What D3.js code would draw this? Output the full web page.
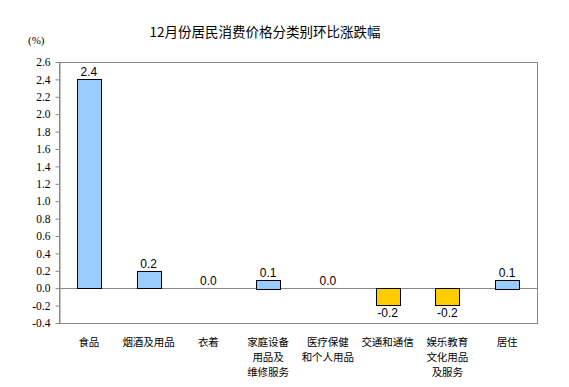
<!DOCTYPE html>
<html><head><meta charset="utf-8">
<script src="https://cdn.jsdelivr.net/npm/d3@7"></script>
<style>body{margin:0;background:#fff}</style>
</head><body>
<svg id="c" width="569" height="387"></svg>
<script>
const categories = [["食品"],["烟酒及用品"],["衣着"],["家庭设备","用品及","维修服务"],["医疗保健","和个人用品"],["交通和通信"],["娱乐教育","文化用品","及服务"],["居住"]];
const values = [2.4, 0.2, 0.0, 0.1, 0.0, -0.2, -0.2, 0.1];
const yTicks = [-0.4,-0.2,0,0.2,0.4,0.6,0.8,1.0,1.2,1.4,1.6,1.8,2.0,2.2,2.4,2.6];
const title = "12月份居民消费价格分类别环比涨跌幅";

const fmt = d => d3.format(".1f")(d).replace("\u2212","-");
const svg = d3.select("#c");
const m = {l:59, r:537, t:62, b:323};
const x = d3.scaleBand().domain(d3.range(values.length)).range([m.l, m.r]).paddingInner(0.6).paddingOuter(0.3);
const y = d3.scaleLinear().domain([-0.4, 2.6]).range([m.b, m.t]);

svg.append("text").attr("x", 265).attr("y", 37).attr("text-anchor","middle")
  .attr("font-family","'Noto Sans CJK SC'").attr("font-size",13.5).attr("fill","#000").text(title);
svg.append("text").attr("x", 28).attr("y", 44)
  .attr("font-family","'Liberation Serif'").attr("font-size",11).text("(%)");

// frame
svg.append("rect").attr("x", m.l+0.5).attr("y", m.t+0.5).attr("width", m.r-m.l).attr("height", m.b-m.t)
  .attr("fill","none").attr("stroke","#888");

const ax = svg.append("g").attr("transform",`translate(${m.l+0.5},0)`)
  .call(d3.axisLeft(y).tickValues(yTicks).tickFormat(fmt).tickSize(4).tickSizeOuter(0));
ax.select(".domain").attr("stroke","#888");
ax.selectAll(".tick line").attr("stroke","#888");
ax.selectAll(".tick text").attr("font-family","'Liberation Serif'").attr("font-size",11.5).attr("fill","#000").attr("x",-9);

// zero line
svg.append("line").attr("x1", m.l).attr("x2", m.r).attr("y1", Math.round(y(0))+0.5).attr("y2", Math.round(y(0))+0.5).attr("stroke","#888");

svg.selectAll("rect.bar").data(values).enter().append("rect").attr("class","bar")
  .attr("x",(d,i)=>Math.round(x(i))+0.5).attr("width",Math.round(x.bandwidth()))
  .attr("y",d=>Math.round(y(Math.max(d,0)))+0.5).attr("height",d=>Math.round(Math.abs(y(d)-y(0))))
  .attr("fill",d=>d<0?"#FFCC00":"#99CCFF").attr("stroke","#000").attr("stroke-width",1)
  .style("display",d=>d===0?"none":null);

svg.selectAll("text.val").data(values).enter().append("text").attr("class","val")
  .attr("x",(d,i)=>x(i)+x.bandwidth()/2).attr("text-anchor","middle")
  .attr("y",d=>d<0? y(d)+11 : y(d)-3)
  .attr("font-family","'Liberation Sans'").attr("font-size",12).text(fmt);

categories.forEach((lines,i)=>{
  lines.forEach((s,k)=>svg.append("text").attr("class","cat")
    .attr("text-anchor","middle").attr("font-family","'Noto Sans CJK SC'").attr("font-size",10.5)
    .attr("x",x(i)+x.bandwidth()/2).attr("y",346+k*15).text(s));
});
</script>
</body></html>
